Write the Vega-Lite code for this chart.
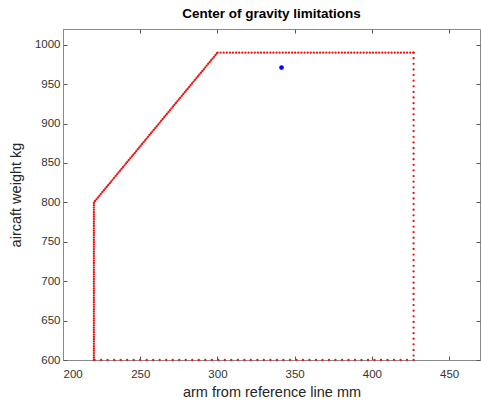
{
  "$schema": "https://vega.github.io/schema/vega-lite/v6.json",
  "width": 417,
  "height": 331,
  "autosize": {"type": "none"},
  "padding": {"left": 63, "top": 29, "right": 1, "bottom": 45},
  "background": "white",
  "title": {"text": "Center of gravity limitations", "font": "Liberation Sans", "fontSize": 13.5, "fontWeight": "bold", "color": "#000000", "offset": 8, "anchor": "middle"},
  "config": {
    "view": {"stroke": "#8a8a8a", "strokeWidth": 1},
    "axis": {"grid": false, "domainColor": "#8a8a8a", "tickColor": "#555555", "tickSize": -4, "labelFont": "Liberation Sans", "labelFontSize": 11.5, "labelColor": "#333333", "titleFont": "Liberation Sans", "titleFontSize": 14.5, "titleFontWeight": "normal", "titleColor": "#262626"}
  },
  "datasets": {
    "limits": [
      {"seg": "A", "ord": 1, "arm": 220, "weight": 600},
      {"seg": "A", "ord": 2, "arm": 220, "weight": 800},
      {"seg": "A", "ord": 3, "arm": 300, "weight": 990},
      {"seg": "B", "ord": 1, "arm": 300, "weight": 990},
      {"seg": "B", "ord": 2, "arm": 427, "weight": 990},
      {"seg": "C", "ord": 1, "arm": 427, "weight": 990},
      {"seg": "C", "ord": 2, "arm": 427, "weight": 600},
      {"seg": "D", "ord": 1, "arm": 427, "weight": 600},
      {"seg": "D", "ord": 2, "arm": 220, "weight": 600}
    ],
    "cg": [{"arm": 341.5, "weight": 971}]
  },
  "layer": [
    {
      "data": {"name": "limits"},
      "mark": {"type": "line", "color": "#ee1111", "strokeWidth": 2.3, "strokeCap": "round", "clip": false},
      "encoding": {
        "x": {"field": "arm", "type": "quantitative", "scale": {"domain": [200, 470], "nice": false, "zero": false}, "axis": {"orient": "bottom", "values": [200, 250, 300, 350, 400, 450], "title": "arm from reference line mm", "labelPadding": 12, "titlePadding": 6, "zindex": 0}},
        "y": {"field": "weight", "type": "quantitative", "scale": {"domain": [600, 1020], "nice": false, "zero": false}, "axis": {"orient": "left", "values": [600, 650, 700, 750, 800, 850, 900, 950, 1000], "format": "d", "title": "aircaft weight kg", "labelPadding": 7, "titlePadding": 11, "zindex": 0}},
        "order": {"field": "ord", "type": "quantitative"},
        "strokeDash": {"field": "seg", "type": "nominal", "legend": null, "scale": {"domain": ["A", "B", "C", "D"], "range": [[0.01, 2.3], [0.01, 3.1], [0.01, 5.6], [0.01, 6.5]]}}
      }
    },
    {
      "data": {"name": "cg"},
      "mark": {"type": "point", "filled": true, "color": "#0000ff", "size": 22, "opacity": 1},
      "encoding": {
        "x": {"field": "arm", "type": "quantitative", "axis": {"orient": "top", "values": [200, 250, 300, 350, 400, 450], "labels": false, "title": null, "domain": false}},
        "y": {"field": "weight", "type": "quantitative", "axis": {"orient": "right", "values": [600, 650, 700, 750, 800, 850, 900, 950, 1000], "labels": false, "title": null, "domain": false}}
      }
    }
  ],
  "resolve": {"axis": {"x": "independent", "y": "independent"}}
}
